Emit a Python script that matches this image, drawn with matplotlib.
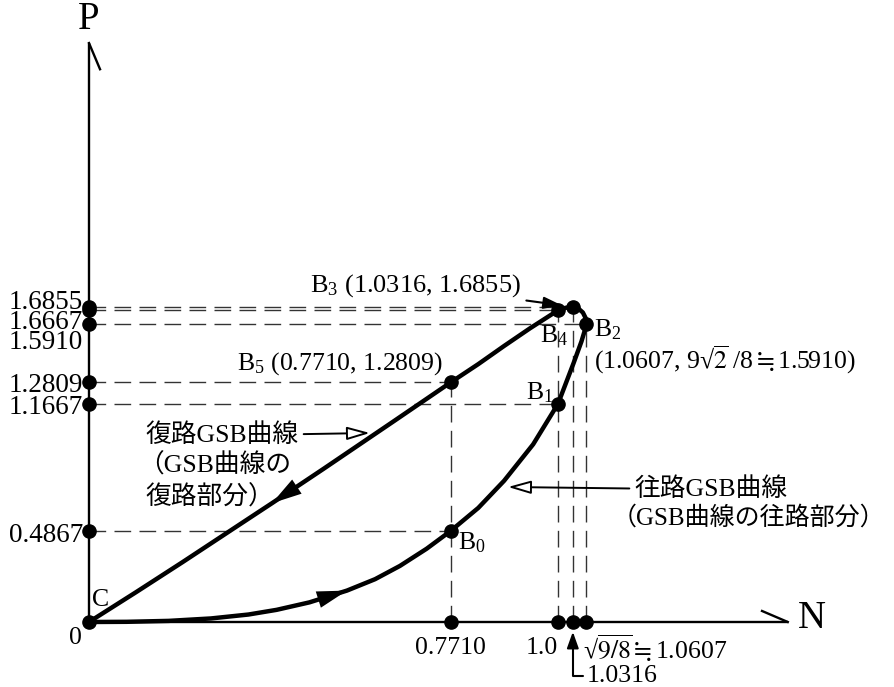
import numpy as np
import matplotlib.pyplot as plt

plt.rcParams['font.family'] = ['Liberation Serif', 'Noto Sans CJK JP']
plt.rcParams['mathtext.fontset'] = 'custom'
plt.rcParams['mathtext.rm'] = 'Liberation Serif'
plt.rcParams['mathtext.it'] = 'Liberation Serif:italic'
plt.rcParams['mathtext.bf'] = 'Liberation Serif:bold'
plt.rcParams['mathtext.fallback'] = 'stix'

# characteristic points B0..B5
B_N = [0.7710, 1.0, 1.0607, 1.0316, 1.0, 0.7710]
B_P = [0.4867, 1.1667, 1.5910, 1.6855, 1.6667, 1.2809]
B_names = ['B$_0$', 'B$_1$', 'B$_2$', 'B$_3$', 'B$_4$', 'B$_5$']

# values marked on the axes
p_ticks = [1.6855, 1.6667, 1.5910, 1.2809, 1.1667, 0.4867]
n_ticks = [0.7710, 1.0, 1.0316, 1.0607]

# outward branch C -> B0 -> B1 -> B2 -> B3
out_N = [0.0, 0.08, 0.17, 0.26, 0.34, 0.40, 0.47, 0.55, 0.61, 0.663, 0.72,
         0.771, 0.83, 0.885, 0.947, 1.0, 1.033, 1.05, 1.056, 1.0607, 1.059,
         1.053, 1.044, 1.0316]
out_P = [0.0, 0.001, 0.006, 0.019, 0.040, 0.065, 0.105, 0.168, 0.229, 0.300,
         0.392, 0.4867, 0.610, 0.755, 0.950, 1.1667, 1.383, 1.500, 1.550,
         1.5910, 1.625, 1.655, 1.675, 1.6855]

# return branch B3 -> B4 -> B5 -> C
ret_N = [1.0316, 1.016, 1.0, 0.94, 0.885, 0.83, 0.771, 0.65, 0.5, 0.46,
         0.39, 0.35, 0.2, 0.1, 0.0]
ret_P = [1.6855, 1.680, 1.6667, 1.570, 1.476, 1.379, 1.2809, 1.074, 0.819,
         0.752, 0.635, 0.569, 0.321, 0.159, 0.0]

P_TOP = 3.096
N_END = 1.490
FS = 18.5

fig = plt.figure(figsize=(8.94, 6.87), dpi=100)
ax = fig.add_axes([0, 0, 1, 1])
ax.set_xlim(-89 / 469, 805 / 469)
ax.set_ylim(-65 / 187, 622 / 187)
ax.axis('off')

# axes with small slanted marks at their ends
ax.plot([0, 0], [0, P_TOP], color='black', lw=1.7, solid_capstyle='butt')
ax.plot([0, 0.0235], [P_TOP, P_TOP - 0.14], color='black', lw=1.7)
ax.plot([0, N_END], [0, 0], color='black', lw=1.7, solid_capstyle='butt')
ax.plot([N_END - 0.055, N_END], [0.059, 0], color='black', lw=1.7)
ax.text(0, 3.22, 'P', fontsize=28, ha='center', va='center')
ax.text(1.541, 0.02, 'N', fontsize=28, ha='center', va='center')

# dashed guide lines
dash_kw = dict(color='#333333', lw=1.0, dashes=(12, 6), zorder=1)
for n, p in zip(B_N, B_P):
    ax.plot([0, n], [p, p], **dash_kw)
for n in n_ticks:
    top = max(p for bn, p in zip(B_N, B_P) if bn == n)
    ax.plot([n, n], [0, top], **dash_kw)

# GSB curve
ax.plot(out_N, out_P, color='black', lw=3.2, solid_capstyle='round',
        solid_joinstyle='round', zorder=3)
ax.plot(ret_N, ret_P, color='black', lw=3.2, solid_capstyle='round',
        solid_joinstyle='round', zorder=3)

head = dict(arrowstyle='-|>,head_length=0.6,head_width=0.17',
            mutation_scale=36, color='black', lw=0, shrinkA=0, shrinkB=0)
i = out_N.index(0.55)
ax.annotate('', xy=(out_N[i], out_P[i]), xytext=(out_N[i - 1], out_P[i - 1]),
            arrowprops=head, zorder=4)
j = ret_N.index(0.39)
ax.annotate('', xy=(ret_N[j], ret_P[j]), xytext=(ret_N[j - 1], ret_P[j - 1]),
            arrowprops=head, zorder=4)

# dots
dot_kw = dict(marker='o', ms=9.5, color='black', ls='none', zorder=5)
ax.plot([0], [0], **dot_kw)
ax.plot([0] * len(p_ticks), p_ticks, **dot_kw)
ax.plot(n_ticks, [0] * len(n_ticks), **dot_kw)
ax.plot(B_N, B_P, **dot_kw)

# axis value labels
p_dy = [7, -9, -15, 0, -1, -2]
for p, dy in zip(p_ticks, p_dy):
    ax.annotate(f'{p:.4f}', xy=(0, p), xytext=(-6, dy), textcoords='offset pixels',
                ha='right', va='center_baseline', fontsize=19.5)
ax.annotate('0', xy=(0, 0), xytext=(-14, -13), textcoords='offset pixels',
            ha='center', va='center_baseline', fontsize=FS)
ax.annotate('C', xy=(0, 0), xytext=(12, 25), textcoords='offset pixels',
            ha='center', va='center_baseline', fontsize=FS)
ax.annotate('0.7710', xy=(n_ticks[0], 0), xytext=(0, -24), textcoords='offset pixels',
            ha='center', va='center_baseline', fontsize=FS)
ax.annotate('1.0', xy=(n_ticks[1], 0), xytext=(0, -24), textcoords='offset pixels',
            ha='right', va='center_baseline', fontsize=FS)
ax.annotate('√$\\overline{9/8}\\fallingdotseq$1.0607', xy=(n_ticks[3], 0),
            xytext=(-3, -24), textcoords='offset pixels', ha='left',
            va='center_baseline', fontsize=FS, math_fontfamily='stix')
ax.annotate('1.0316', xy=(n_ticks[2], 0), xytext=(14, -51), textcoords='offset pixels',
            ha='left', va='center_baseline', fontsize=FS,
            arrowprops=dict(arrowstyle='-|>,head_length=0.7,head_width=0.25',
                            mutation_scale=14, color='black', lw=1.5,
                            connectionstyle='angle,angleA=0,angleB=90,rad=0',
                            shrinkA=1, shrinkB=7))

# point labels
b_off = [(21, -9), (-18, 14), (21, -2), None, (-4, -23), None]
for name, n, p, off in zip(B_names, B_N, B_P, b_off):
    if off is None:
        continue
    ax.annotate(name, xy=(n, p), xytext=off, textcoords='offset pixels',
                ha='center', va='center_baseline', fontsize=FS)
ax.annotate('(1.0607, 9√$\\overline{2}$ /8$\\fallingdotseq$1.5910)',
            xy=(B_N[2], B_P[2]), xytext=(8, -32), textcoords='offset pixels',
            ha='left', va='center_baseline', fontsize=FS, math_fontfamily='stix')
ax.annotate(B_names[5] + ' (0.7710, 1.2809)', xy=(B_N[5], B_P[5]),
            xytext=(-8, 23), textcoords='offset pixels', ha='right',
            va='center_baseline', fontsize=FS)
ax.annotate(B_names[3] + ' (1.0316, 1.6855)', xy=(B_N[3], B_P[3]),
            xytext=(-52, 25), textcoords='offset pixels', ha='right',
            va='center_baseline', fontsize=19,
            arrowprops=dict(arrowstyle='-|>,head_length=0.55,head_width=0.18',
                            mutation_scale=20, color='black', lw=1.5,
                            shrinkA=2, shrinkB=8))

# branch names
hollow = dict(arrowstyle='-|>,head_length=0.7,head_width=0.2', mutation_scale=20,
              fc='white', ec='black', lw=1.4, shrinkA=2, shrinkB=0)
ax.annotate('復路GSB曲線', xy=(0.599, 1.0107), xytext=(0.1194, 1.0107),
            ha='left', va='center_baseline', fontsize=FS, arrowprops=hollow)
ax.text(0.105, 0.851, '（GSB曲線の', ha='left', va='center_baseline', fontsize=FS)
ax.text(0.1194, 0.679, '復路部分）', ha='left', va='center_baseline', fontsize=FS)
ax.annotate('往路GSB曲線', xy=(0.8934, 0.722), xytext=(1.164, 0.722),
            ha='left', va='center_baseline', fontsize=FS, arrowprops=hollow)
ax.text(1.115, 0.572, '（GSB曲線の往路部分）', ha='left', va='center_baseline',
        fontsize=18)

fig.savefig('out.png', dpi=100)
